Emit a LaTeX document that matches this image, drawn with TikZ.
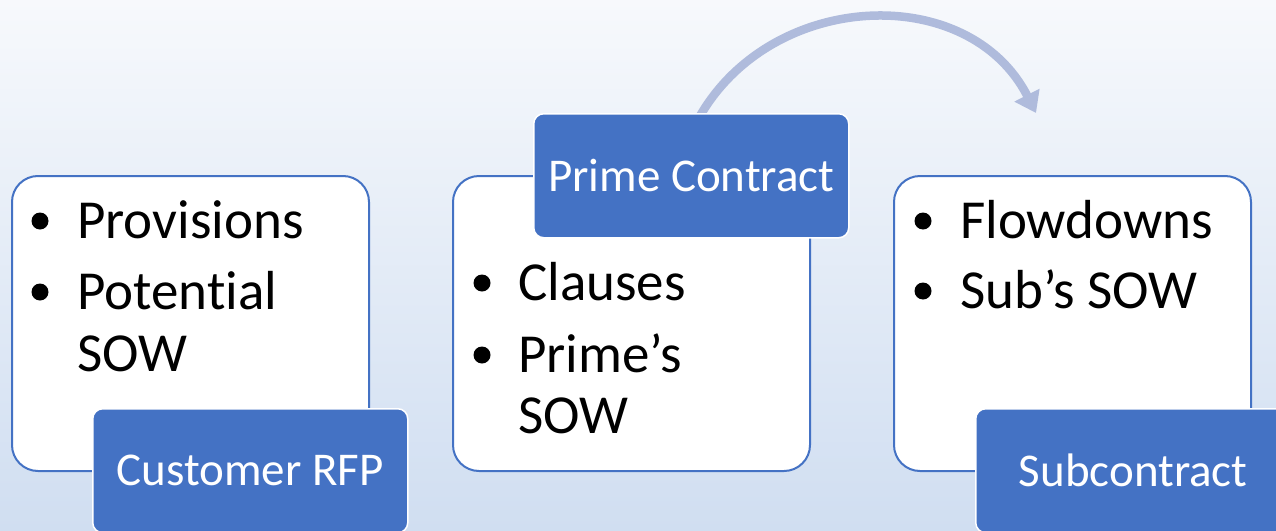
\documentclass[tikz,border=0pt]{standalone}
\usepackage{fontspec}
\setmainfont[Ligatures=NoCommon]{Carlito}
\usetikzlibrary{arrows.meta}
\definecolor{accent}{HTML}{4472C4}
\definecolor{arcblue}{HTML}{AFBBDC}
\definecolor{bgtop}{HTML}{F7F9FC}
\definecolor{bgmid}{HTML}{EDF2F9}
\definecolor{bgbot}{HTML}{D0DEF1}
\pgfdeclarelayer{back}
\pgfsetlayers{back,main}

\begin{document}
\begin{tikzpicture}[x=1pt,y=1pt,
  panel/.style={draw=accent, line width=2pt, fill=white, rounded corners=26pt,
    anchor=north west, minimum width=357pt, minimum height=295pt, inner sep=0pt},
  tagbox/.style={draw=white, line width=1.5pt, fill=accent, rounded corners=10pt,
    anchor=north west, minimum width=315pt, minimum height=124pt, inner sep=0pt,
    text=white, font=\fontsize{47}{56}\selectfont},
  itemtext/.style={anchor=base west, inner sep=0pt, font=\fontsize{55}{62}\selectfont},
  bulletdot/.style={circle, fill=black, inner sep=0pt, minimum size=17pt},
  arcstyle/.style={draw=arcblue, line width=8.5pt,
    -{Triangle[length=20pt,width=27pt]}}
]
\useasboundingbox (0,0) rectangle (1276,-530);
\clip (0,0) rectangle (1276,-530);

% soft backdrop
\begin{pgfonlayer}{back}
  \shade[top color=bgtop, middle color=bgmid, bottom color=bgbot] (0,0) rectangle (1276,-530);
\end{pgfonlayer}

% left panel: customer RFP
\node[panel] (p1) at (11,-175) {};
\node[bulletdot] (b1a) at (40,-221) {};
\node[itemtext]  (t1a) at (77,-238) {Provisions};
\node[bulletdot] (b1b) at (40,-292) {};
\node[itemtext]  (t1b) at (77,-309) {Potential};
\node[itemtext]  (t1c) at (77,-371) {SOW};
\node[tagbox] (rfp) at (92,-408) {Customer RFP};

% middle panel: prime contract
\node[panel] (p2) at (452,-175) {};
\node[bulletdot] (b2a) at (482,-283) {};
\node[itemtext]  (t2a) at (518,-300) {Clauses};
\node[bulletdot] (b2b) at (482,-355) {};
\node[itemtext]  (t2b) at (518,-372) {Prime’s};
\node[itemtext]  (t2c) at (518,-433) {SOW};
\node[tagbox] (prime) at (533,-113) {Prime Contract};

% right panel: subcontract
\node[panel] (p3) at (893,-175) {};
\node[bulletdot] (b3a) at (923,-221) {};
\node[itemtext]  (t3a) at (960,-238) {Flowdowns};
\node[bulletdot] (b3b) at (923,-291) {};
\node[itemtext]  (t3b) at (960,-308) {Sub’s SOW};
\node[tagbox] (sub) at (975,-408) {Subcontract};

% curved flow arrow from the prime contract towards the subcontract
\coordinate (arcend) at (1036,-113);
\begin{pgfonlayer}{back}
  \draw[arcstyle] ([xshift=7pt,yshift=-6pt]prime.north) to[out=61,in=117,looseness=1.12] (arcend);
\end{pgfonlayer}
\end{tikzpicture}
\end{document}
